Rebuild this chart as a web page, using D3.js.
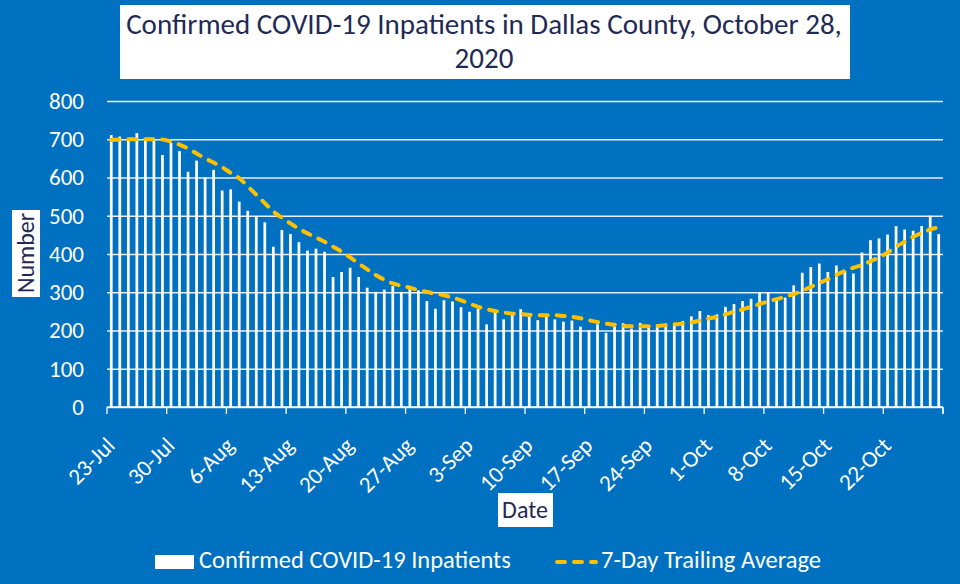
<!DOCTYPE html>
<html>
<head>
<meta charset="utf-8">
<script src="https://cdn.jsdelivr.net/npm/d3@7"></script>
<style>
  html, body { margin: 0; padding: 0; background: #0070c0; }
  svg { display: block; }
</style>
</head>
<body>
<div id="chart"></div>
<script>
// daily inpatient counts, 23-Jul .. 28-Oct
const inpatients = [
  711, 707, 700, 716, 700, 698, 659, 690, 669, 615,
  644, 600, 620, 566, 569, 537, 513, 499, 483, 419,
  463, 452, 431, 409, 414, 406, 340, 353, 364, 340,
  312, 301, 307, 316, 301, 311, 305, 277, 257, 279,
  276, 261, 249, 256, 216, 247, 229, 240, 256, 236,
  227, 236, 229, 223, 226, 210, 201, 216, 194, 210,
  219, 205, 220, 211, 216, 218, 216, 225, 237, 251,
  240, 242, 262, 269, 277, 283, 300, 300, 283, 286,
  318, 351, 366, 375, 353, 370, 356, 349, 404, 436,
  441, 451, 473, 464, 461, 473, 500, 452
];

// 7-day trailing average
const trailingAvg = [
  698, 699, 700, 700, 700, 700, 699, 694, 686, 676,
  663, 650, 639, 627, 612, 598, 577, 555, 533, 511,
  495, 480, 466, 454, 443, 432, 419, 406, 391, 375,
  360, 345, 333, 323, 317, 312, 306, 301, 296, 292,
  286, 279, 270, 262, 256, 251, 247, 244, 243, 241,
  240, 240, 240, 238, 236, 232, 227, 222, 218, 215,
  212, 211, 211, 211, 212, 214, 216, 218, 221, 226,
  231, 236, 242, 249, 255, 262, 269, 276, 282, 288,
  295, 304, 314, 324, 334, 345, 356, 364, 371, 381,
  391, 404, 419, 432, 445, 455, 464, 470
];

const yTicks = [0, 100, 200, 300, 400, 500, 600, 700, 800];
const startDate = new Date(2020, 6, 23);
const fmt = d3.timeFormat("%-d-%b");
const dates = inpatients.map((_, i) => d3.timeDay.offset(startDate, i));
const dateLabels = dates.map(fmt);

const font = "Calibri, Carlito, Lato, sans-serif";
const darkText = "#1f2a56";
const W = 960, H = 584;
const margin = { top: 101, right: 17, bottom: 177, left: 107 };
const width = W - margin.left - margin.right;
const height = H - margin.top - margin.bottom;

const svg = d3.select("#chart").append("svg")
  .attr("width", W).attr("height", H)
  .style("background", "#0070c0");

// title box
svg.append("rect").attr("x", 120).attr("y", 5).attr("width", 730).attr("height", 74).attr("fill", "#fff");
const title = svg.append("text")
  .attr("text-anchor", "middle")
  .style("font-family", font).style("font-size", "29px").style("fill", darkText);
title.append("tspan").attr("x", 484).attr("y", 34).text("Confirmed COVID-19 Inpatients in Dallas County, October 28,");
title.append("tspan").attr("x", 484).attr("y", 68).text("2020");

const g = svg.append("g").attr("transform", `translate(${margin.left},${margin.top})`);

const x = d3.scaleBand().domain(dateLabels).range([0, width]).paddingInner(0.68).paddingOuter(0.34);
const y = d3.scaleLinear().domain([0, 800]).range([height, 0]);

// gridlines
g.append("g")
  .call(d3.axisLeft(y).tickValues(yTicks).tickSize(-width).tickFormat(""))
  .call(a => a.select(".domain").remove())
  .selectAll("line").attr("stroke", "#e6eef7").attr("stroke-width", 1.3);

// y labels
g.append("g")
  .call(d3.axisLeft(y).tickValues(yTicks).tickSize(0).tickPadding(23))
  .call(a => a.select(".domain").remove())
  .selectAll("text")
  .style("font-family", font).style("font-size", "23px").style("fill", "#fff");

// bars
g.selectAll(".bar").data(inpatients).enter().append("rect")
  .attr("class", "bar")
  .attr("x", (d, i) => x(dateLabels[i]))
  .attr("width", x.bandwidth())
  .attr("y", d => y(d))
  .attr("height", d => height - y(d))
  .attr("fill", "#fff");

// x axis: ticks every 7 days
const step = x.step();
const tickIdx = d3.range(0, inpatients.length + 1, 7).concat([inpatients.length]);
const xAxis = g.append("g").attr("transform", `translate(0,${height})`);
xAxis.append("line").attr("x1", 0).attr("x2", width).attr("stroke", "#fff").attr("stroke-width", 1.3);
xAxis.selectAll(".tk").data(tickIdx).enter().append("line")
  .attr("x1", d => d * step).attr("x2", d => d * step)
  .attr("y1", 0).attr("y2", 7)
  .attr("stroke", "#fff").attr("stroke-width", 1.3);

const labelIdx = d3.range(0, inpatients.length, 7);
xAxis.selectAll(".lbl").data(labelIdx).enter().append("text")
  .attr("text-anchor", "end")
  .attr("transform", d => `translate(${x(dateLabels[d]) + x.bandwidth() / 2 + 5},${40}) rotate(-45)`)
  .style("font-family", font).style("font-size", "23px").style("fill", "#fff")
  .text(d => dateLabels[d]);

// trailing average line
const line = d3.line()
  .x((d, i) => x(dateLabels[i]) + x.bandwidth() / 2)
  .y(d => y(d))
  .curve(d3.curveMonotoneX);
g.append("path").datum(trailingAvg)
  .attr("d", line)
  .attr("fill", "none")
  .attr("stroke", "#ffc000")
  .attr("stroke-width", 4)
  .attr("stroke-linecap", "round")
  .attr("stroke-dasharray", "8,9");

// axis titles
svg.append("rect").attr("x", 12).attr("y", 210).attr("width", 28).attr("height", 87).attr("fill", "#fff");
svg.append("text")
  .attr("transform", "translate(34,253) rotate(-90)")
  .attr("text-anchor", "middle")
  .style("font-family", font).style("font-size", "24px").style("fill", darkText)
  .text("Number");

svg.append("rect").attr("x", 498).attr("y", 493).attr("width", 55).attr("height", 34).attr("fill", "#fff");
svg.append("text")
  .attr("x", 525).attr("y", 518)
  .attr("text-anchor", "middle")
  .style("font-family", font).style("font-size", "24px").style("fill", darkText)
  .text("Date");

// legend
svg.append("rect").attr("x", 155).attr("y", 555).attr("width", 39).attr("height", 14).attr("fill", "#fff");
svg.append("text").attr("x", 199).attr("y", 568)
  .style("font-family", font).style("font-size", "24.5px").style("fill", "#fff")
  .text("Confirmed COVID-19 Inpatients");
svg.append("line").attr("x1", 557).attr("x2", 596).attr("y1", 562).attr("y2", 562)
  .attr("stroke", "#ffc000").attr("stroke-width", 4)
  .attr("stroke-linecap", "round").attr("stroke-dasharray", "8,9");
svg.append("text").attr("x", 601).attr("y", 568)
  .style("font-family", font).style("font-size", "24.5px").style("fill", "#fff")
  .text("7-Day Trailing Average");
</script>
</body>
</html>
